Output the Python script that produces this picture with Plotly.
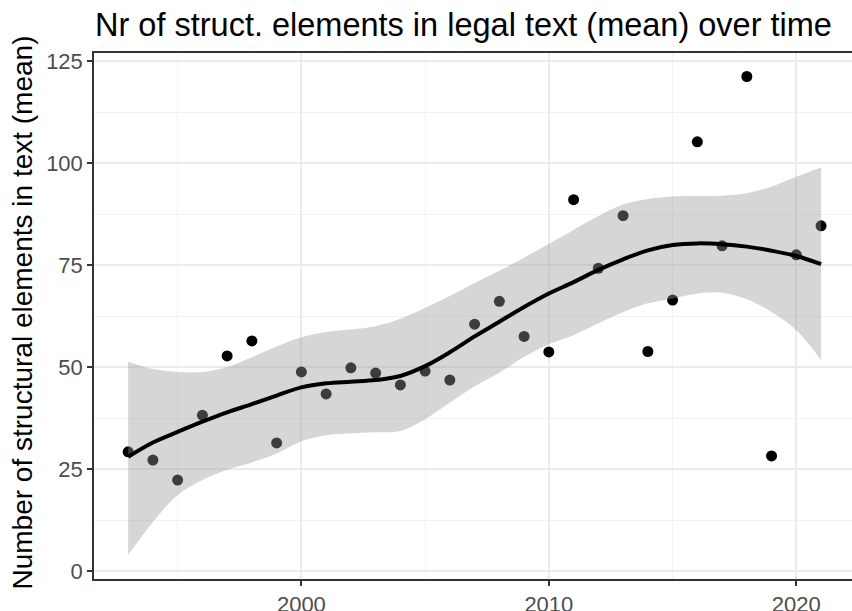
import plotly.graph_objects as go

years = list(range(1993, 2022))
mean_elements = [29.2, 27.2, 22.3, 38.2, 52.7, 56.4, 31.4, 48.8, 43.4, 49.8,
                 48.5, 45.6, 49.0, 46.8, 60.5, 66.1, 57.5, 53.7, 91.0, 74.2,
                 87.1, 53.8, 66.4, 105.2, 79.7, 121.2, 28.2, 77.5, 84.6]

smooth_fit = [28.0, 31.5, 34.1, 36.6, 38.9, 40.9, 43.0, 45.0, 46.0, 46.4,
              46.8, 47.8, 50.2, 53.6, 57.5, 61.1, 64.7, 68.0, 70.8, 73.8,
              76.4, 78.6, 79.9, 80.3, 80.1, 79.5, 78.5, 77.2, 75.2]
smooth_upper = [51.3, 49.5, 48.8, 48.8, 50.0, 52.4, 55.0, 57.3, 58.6, 59.2,
                60.0, 61.8, 64.5, 67.4, 70.6, 73.6, 76.8, 80.2, 83.6, 87.0,
                89.8, 91.2, 91.8, 91.9, 92.0, 92.6, 94.2, 96.6, 98.9]
smooth_lower = [3.9, 12.0, 18.6, 22.3, 24.8, 26.6, 28.8, 31.8, 33.3, 33.7,
                34.0, 34.3, 37.2, 41.3, 45.3, 48.6, 52.5, 55.6, 57.8, 60.7,
                63.5, 65.6, 66.8, 68.0, 68.2, 66.6, 63.5, 59.0, 51.7]

x_ticks = [2000, 2010, 2020]
y_ticks = [0, 25, 50, 75, 100, 125]

title_text = "Nr of struct. elements in legal text (mean) over time"
y_title = "Number of structural elements in text (mean)"

FONT = "Liberation Sans, Arial, Helvetica, sans-serif"

fig = go.Figure()

fig.add_trace(go.Scatter(
    x=years, y=mean_elements, mode="markers",
    marker=dict(color="black", size=11, line=dict(width=0)),
    showlegend=False, hoverinfo="x+y"))

fig.add_trace(go.Scatter(
    x=years, y=smooth_lower, mode="lines", line=dict(width=0, shape="spline"),
    showlegend=False, hoverinfo="skip"))
fig.add_trace(go.Scatter(
    x=years, y=smooth_upper, mode="lines", line=dict(width=0, shape="spline"),
    fill="tonexty", fillcolor="rgba(153,153,153,0.4)",
    showlegend=False, hoverinfo="skip"))

fig.add_trace(go.Scatter(
    x=years, y=smooth_fit, mode="lines",
    line=dict(color="black", width=4, shape="spline"),
    showlegend=False))

fig.update_layout(
    width=852, height=611,
    margin=dict(l=94, r=0, t=53, b=32, pad=0, autoexpand=False),
    paper_bgcolor="white", plot_bgcolor="white",
    font=dict(family=FONT, color="black"),
    title=dict(text=title_text, x=95 / 852, xanchor="left", xref="container",
               y=1 - 25 / 611, yanchor="middle", yref="container",
               font=dict(size=32.5, color="black", family=FONT)),
    annotations=[dict(text=y_title, textangle=-90, xref="paper", yref="paper",
                      x=(22 - 94) / 758, y=(579 - 312.5) / 526,
                      xanchor="center", yanchor="middle", showarrow=False,
                      font=dict(size=28, color="black", family=FONT))],
)

fig.update_xaxes(
    range=[1991.62, 2022.25], tickvals=x_ticks, ticktext=[str(v) for v in x_ticks],
    automargin=False,
    showgrid=True, gridcolor="#EBEBEB", gridwidth=1.5,
    minor=dict(dtick=5, tick0=1995, showgrid=True, gridcolor="#F2F2F2", gridwidth=0.8),
    ticks="outside", ticklen=5, tickwidth=1.5, tickcolor="#333333",
    tickfont=dict(size=22, color="#4D4D4D", family=FONT),
    showline=True, linecolor="#333333", linewidth=1.5, mirror=True,
    zeroline=False)

fig.update_yaxes(
    range=[-1.96, 126.96], tickvals=y_ticks, ticktext=[str(v) for v in y_ticks],
    automargin=False,
    showgrid=True, gridcolor="#EBEBEB", gridwidth=1.5,
    minor=dict(dtick=12.5, tick0=12.5, showgrid=True, gridcolor="#F2F2F2", gridwidth=0.8),
    ticks="outside", ticklen=5, tickwidth=1.5, tickcolor="#333333",
    tickfont=dict(size=22, color="#4D4D4D", family=FONT),
    showline=True, linecolor="#333333", linewidth=1.5, mirror=False,
    zeroline=False)

fig.write_html("out.html", config={"displayModeBar": False},
               post_script="document.body.style.margin='0';document.body.style.overflow='hidden';")
